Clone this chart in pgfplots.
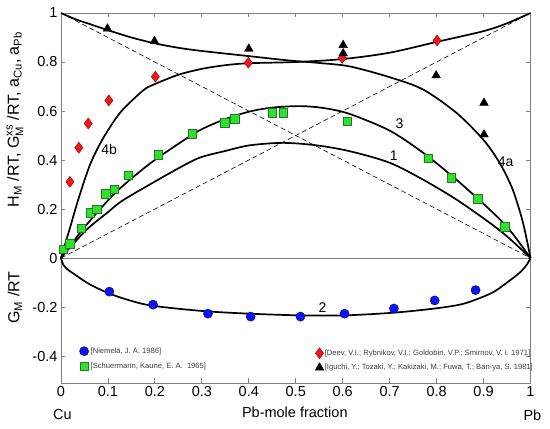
\documentclass[border=0pt]{standalone}
\usepackage{pgfplots}
\pgfplotsset{compat=1.18}
\usepackage{amsmath}
\usepackage{fontspec}
\setmainfont{Liberation Sans}
\definecolor{framegray}{RGB}{128,128,128}
\definecolor{mkblue}{RGB}{10,20,235}
\definecolor{mkblueedge}{RGB}{0,0,140}
\definecolor{mkgreen}{RGB}{45,225,45}
\definecolor{mkgreenedge}{RGB}{40,120,40}
\definecolor{mkred}{RGB}{235,25,25}
\definecolor{mkrededge}{RGB}{160,0,0}
\definecolor{legtext}{RGB}{60,60,60}
\newcommand{\fs}[1]{\fontsize{#1}{#1}\selectfont}
\begin{document}
\begin{tikzpicture}
\pgfplotsset{
  common/.style={
    width=469.5pt, height=370pt, scale only axis,
    xmin=0, xmax=1, ymin=-0.51, ymax=1,
    clip=false,
  },
  legmark/.style={legend image code/.code={\draw[mark repeat=2,mark phase=2,##1] plot coordinates {(0pt,0pt) (4.5pt,0pt) (9pt,0pt)};}},
  curve/.style={black, line width=1.7pt, smooth, forget plot},
}
\begin{axis}[common, name=ax, at={(0,0)}, anchor=south west,
  axis line style={framegray, line width=0.9pt},
  tick style={framegray, line width=0.8pt},
  major tick length=4.5pt,
  tick align=inside,
  tick pos=both,
  xtick={0,0.1,0.2,0.3,0.4,0.5,0.6,0.7,0.8,0.9,1},
  xticklabels={0,0.1,0.2,0.3,0.4,0.5,0.6,0.7,0.8,0.9,1},
  ytick={-0.4,-0.2,0,0.2,0.4,0.6,0.8,1},
  yticklabels={-0.4,-0.2,0,0.2,0.4,0.6,0.8,1},
  tick label style={font=\fs{14.5}},
  legend style={at={(axis cs:0.039,-0.411)}, anchor=west, draw=none, fill=none,
     font=\fs{7.6}, text=legtext, inner sep=0pt, row sep=4pt,
     nodes={inner sep=2pt}},
  legend cell align=left,
]
% zero line and ideal (Raoult) lines
\addplot[framegray, line width=0.8pt, forget plot] coordinates {(0,0) (1,0)};
\addplot[black, line width=0.6pt, dash pattern=on 5pt off 3pt, forget plot] coordinates {(0,1) (1,0)};
\addplot[black, line width=0.6pt, dash pattern=on 5pt off 3pt, forget plot] coordinates {(0,0) (1,1)};
% a_Cu (4a)
\addplot[curve] coordinates {(0,1) (0.03,0.975) (0.058,0.957) (0.1,0.93) (0.15,0.9) (0.2,0.876) (0.25,0.858) (0.3,0.845) (0.4,0.824) (0.487,0.806) (0.55,0.796) (0.615,0.782) (0.7,0.738) (0.771,0.688) (0.842,0.593) (0.899,0.484) (0.934,0.389) (0.962,0.28) (0.984,0.144) (1,0)};
% a_Pb (4b)
\addplot[curve] coordinates {(0,0) (0.01,0.065) (0.019,0.122) (0.037,0.24) (0.06,0.372) (0.08,0.455) (0.101,0.524) (0.129,0.6) (0.175,0.684) (0.2,0.71) (0.25,0.748) (0.3,0.772) (0.35,0.787) (0.4,0.795) (0.5,0.8) (0.6,0.812) (0.7,0.838) (0.8,0.882) (0.9,0.926) (0.95,0.958) (1,1)};
% curve 3
\addplot[curve] coordinates {(0,0) (0.02,0.052) (0.058,0.144) (0.1,0.235) (0.129,0.29) (0.189,0.385) (0.25,0.466) (0.296,0.522) (0.35,0.567) (0.402,0.598) (0.45,0.614) (0.509,0.62) (0.56,0.612) (0.615,0.588) (0.7,0.52) (0.771,0.43) (0.842,0.32) (0.913,0.198) (0.955,0.116) (1,0)};
% curve 1
\addplot[curve] coordinates {(0,0) (0.02,0.045) (0.058,0.122) (0.1,0.187) (0.129,0.232) (0.189,0.3) (0.25,0.366) (0.296,0.41) (0.35,0.437) (0.402,0.46) (0.473,0.47) (0.544,0.46) (0.615,0.436) (0.7,0.389) (0.771,0.32) (0.842,0.239) (0.913,0.144) (0.955,0.08) (1,0)};
% curve 2 (G_M/RT)
\addplot[curve] coordinates {(0,0) (0.005,-0.028) (0.015,-0.048) (0.03,-0.068) (0.06,-0.106) (0.103,-0.145) (0.15,-0.175) (0.196,-0.195) (0.3,-0.216) (0.4,-0.227) (0.51,-0.234) (0.604,-0.234) (0.709,-0.223) (0.796,-0.206) (0.85,-0.19) (0.883,-0.17) (0.92,-0.14) (0.948,-0.103) (0.977,-0.06) (0.993,-0.025) (1,0)};
% data
\addplot[only marks, legmark, mark=*, mark size=4.6pt, mark options={fill=mkblue, draw=mkblueedge, line width=0.4pt}] coordinates {(0.103,-0.137) (0.196,-0.190) (0.313,-0.227) (0.404,-0.239) (0.510,-0.239) (0.604,-0.227) (0.709,-0.206) (0.796,-0.173) (0.883,-0.131)};
\addlegendentry{[Niemelä, J. A. 1986]}
\addplot[only marks, legmark, mark=square*, mark size=4.2pt, mark options={fill=mkgreen, draw=mkgreenedge, line width=0.5pt}] coordinates {(0.005,0.035) (0.019,0.059) (0.043,0.122) (0.062,0.184) (0.076,0.198) (0.095,0.262) (0.113,0.280) (0.143,0.337) (0.207,0.422) (0.280,0.508) (0.349,0.552) (0.370,0.568) (0.450,0.593) (0.473,0.593) (0.610,0.558) (0.782,0.406) (0.831,0.327) (0.888,0.242) (0.945,0.127)};
\addlegendentry{[Schuermann, Kaune, E. A.\ \ 1965]}
% labels
\node[font=\fs{14}] at (axis cs:0.1025,0.443) {4b};
\node[font=\fs{14}] at (axis cs:0.947,0.393) {4a};
\node[font=\fs{14}] at (axis cs:0.721,0.548) {3};
\node[font=\fs{14}] at (axis cs:0.709,0.416) {1};
\node[font=\fs{14}] at (axis cs:0.557,-0.202) {2};
\node[font=\fs{14.5}] at (axis cs:0.003,-0.637) {Cu};
\node[font=\fs{14.5}] at (axis cs:1.004,-0.643) {Pb};
\node[font=\fs{14.5}] at (axis cs:0.498,-0.629) {Pb-mole fraction};
\node[rotate=90, font=\fs{16}] at (axis cs:-0.098,0.565) {H\textsubscript{M} /RT, G$^{\text{xs}}_{\text{M}}$ /RT, a\textsubscript{Cu}, a\textsubscript{Pb}};
\node[rotate=90, font=\fs{16}] at (axis cs:-0.098,-0.161) {G\textsubscript{M} /RT};
\end{axis}
\begin{axis}[common, at={(0,0)}, anchor=south west, hide axis,
  legend style={at={(axis cs:0.541,-0.416)}, anchor=west, draw=none, fill=none,
     font=\fs{7.6}, text=legtext, inner sep=0pt, row sep=4pt,
     nodes={inner sep=1pt}},
  legend cell align=left,
]
\addplot[only marks, legmark, mark=diamond*, mark size=5.5pt, mark options={fill=mkred, draw=mkrededge, line width=0.4pt}] coordinates {(0.019,0.311) (0.038,0.450) (0.058,0.549) (0.102,0.643) (0.201,0.740) (0.399,0.797) (0.599,0.817) (0.801,0.888)};
\addlegendentry{[Deev, V.I.; Rybnikov, V.I.; Goldobin, V.P.; Smirnov, V. I. 1971]}
\addplot[only marks, legmark, mark=triangle*, mark size=5pt, mark options={fill=black, draw=black}] coordinates {(0.099,0.936) (0.199,0.885) (0.400,0.854) (0.601,0.869) (0.601,0.835) (0.799,0.745) (0.901,0.633) (0.901,0.504)};
\addlegendentry{[Iguchi, Y.; Tozaki, Y.; Kakizaki, M.; Fuwa, T.; Ban-ya, S. 1981]}
\end{axis}
\pgfresetboundingbox
\path (-61pt,-46pt) rectangle (489pt,383pt);
\end{tikzpicture}
\end{document}
